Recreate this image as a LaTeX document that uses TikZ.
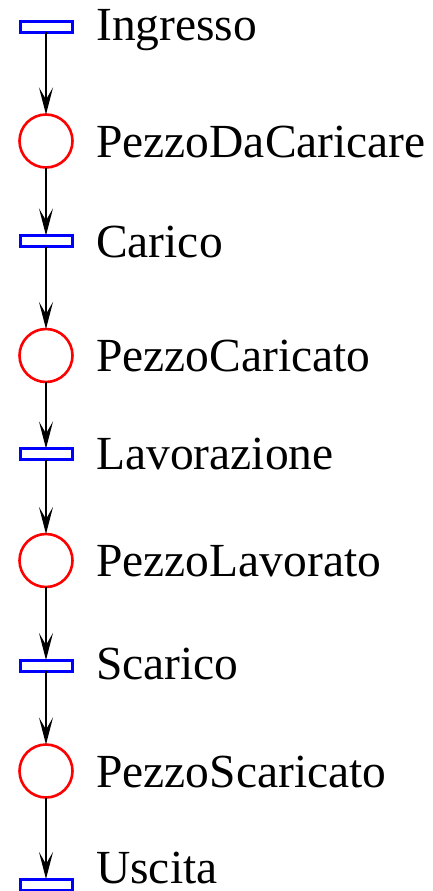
\documentclass[tikz,border=0pt]{standalone}
\usepackage{fontspec}
\setmainfont{Liberation Serif}
\usetikzlibrary{arrows.meta}
\tikzset{
  trans/.style={draw=blue,line width=3pt,minimum width=52pt,minimum height=11pt,inner sep=0pt,outer sep=0pt,rectangle},
  place/.style={draw=red,line width=2.6pt,circle,minimum size=53pt,inner sep=0pt,outer sep=0pt},
  lbl/.style={anchor=base west,inner sep=0pt,font=\fontsize{47.5}{56}\selectfont},
  petriarc/.style={line width=2.8pt,draw=black,-{Stealth[length=27pt,width=14pt,inset=12pt,line width=1.6pt]}}
}
\begin{document}
\begin{tikzpicture}[x=1pt,y=1pt]
\useasboundingbox (0,0) rectangle (432,-891);
\node[trans] (t1) at (46,-27) {};
\node[place] (p1) at (46,-141) {};
\node[trans] (t2) at (46,-241) {};
\node[place] (p2) at (46,-355.5) {};
\node[trans] (t3) at (46,-454) {};
\node[place] (p3) at (46,-560.5) {};
\node[trans] (t4) at (46,-665.5) {};
\node[place] (p4) at (46,-771) {};
\node[trans] (t5) at (46,-884.5) {};
\node[lbl] (l1) at (96,-41) {Ingresso};
\node[lbl] (l2) at (96,-157) {PezzoDaCaricare};
\node[lbl] (l3) at (96,-257) {Carico};
\node[lbl] (l4) at (96,-371) {PezzoCaricato};
\node[lbl] (l5) at (96,-469) {Lavorazione};
\node[lbl] (l6) at (96,-576) {PezzoLavorato};
\node[lbl] (l7) at (96,-679) {Scarico};
\node[lbl] (l8) at (96,-787) {PezzoScaricato};
\node[lbl] (l9) at (96,-883) {Uscita};
\draw[petriarc] (t1.south) -- (p1.north);
\draw[petriarc] (p1.south) -- (t2.north);
\draw[petriarc] (t2.south) -- (p2.north);
\draw[petriarc] (p2.south) -- (t3.north);
\draw[petriarc] (t3.south) -- (p3.north);
\draw[petriarc] (p3.south) -- (t4.north);
\draw[petriarc] (t4.south) -- (p4.north);
\draw[petriarc] (p4.south) -- (t5.north);
\end{tikzpicture}
\end{document}
